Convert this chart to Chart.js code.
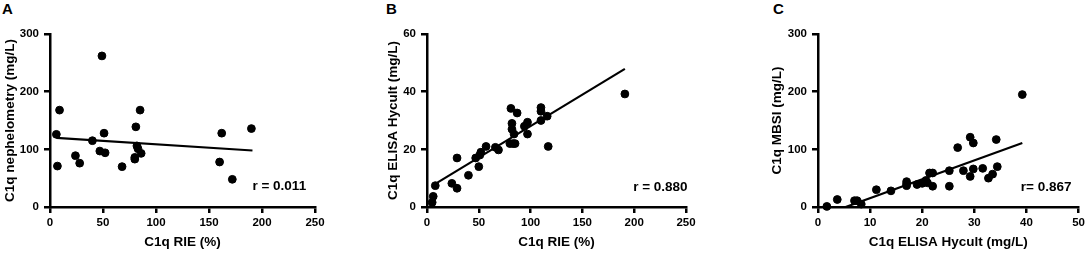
<!DOCTYPE html>
<html>
<head>
<meta charset="utf-8">
<script src="https://cdn.jsdelivr.net/npm/chart.js@4"></script>
<style>
  body { margin: 0; background: #fff; }
  #wrap { position: relative; width: 1088px; height: 253px; overflow: hidden; }
  canvas { position: absolute; top: 0; }
  .panel { position: absolute; top: 0; font: bold 15px "Liberation Sans", Arial, sans-serif; line-height: 17px; color: #000; }
</style>
</head>
<body>
<div id="wrap">
  <div class="panel" style="left:2px">A</div>
  <div class="panel" style="left:386px">B</div>
  <div class="panel" style="left:773px">C</div>
  <canvas id="chartA" width="340" height="253" style="left:0;width:340px;height:253px"></canvas>
  <canvas id="chartB" width="322" height="253" style="left:378px;width:322px;height:253px"></canvas>
  <canvas id="chartC" width="328" height="253" style="left:760px;width:328px;height:253px"></canvas>
</div>
<script>
// panel A: RIE vs nephelometry
const aRie  = [6, 7, 9, 24, 28, 40, 47, 49, 51, 52, 68, 80, 80, 81, 82, 83, 85, 86, 160, 162, 172, 190];
const aNeph = [126, 71, 168, 89, 76, 115, 97, 262, 128, 94, 70, 86, 83, 139, 106, 101, 168, 93, 78, 128, 48, 136];
const aFitX = [6, 191];
const aFitY = [120, 98];

// panel B: RIE vs ELISA Hycult
const bRie    = [5, 6, 8, 24, 29, 29, 40, 47, 50, 51, 52, 57, 66, 69, 80, 81, 82, 82, 83, 84, 85, 87, 94, 97, 97, 110, 110, 110, 116, 117, 191];
const bHycult = [1.6, 3.7, 7.4, 8.2, 6.5, 17, 11, 17, 14, 18, 19, 21, 20.7, 19.8, 22, 34.2, 29, 27, 22, 25.3, 22, 32.6, 28, 29.4, 25.3, 34.5, 33.2, 30, 31.5, 21, 39.2];
const bFitX = [8, 191];
const bFitY = [8, 47.9];

// panel C: ELISA Hycult vs MBSI
const cHycult = [1.7, 3.7, 7, 7.5, 8.3, 11.2, 14, 17, 17, 17, 19, 20, 20.7, 21, 21.4, 22, 22, 25.2, 25.2, 26.8, 27.9, 29.2, 29.2, 29.8, 29.8, 31.6, 32.7, 33.5, 34.2, 34.4, 39.2];
const cMbsi   = [1, 13, 11, 11, 5, 30, 28, 44, 40, 37, 39, 41, 46, 42, 59, 59, 36, 63, 36, 103, 63, 121, 53, 111, 66, 67, 50, 57, 117, 70, 195];
const cFitX = [5.3, 39.2];
const cFitY = [0, 111];

const rLabels = ['r = 0.011', 'r = 0.880', 'r= 0.867'];
const rPos = [[191, 36], [199, 6.9], [38.9, 35]];

const FONT = '"Liberation Sans", Arial, sans-serif';

const rText = {
  id: 'rText',
  afterDatasetsDraw(chart, args, opts) {
    const c = chart.ctx;
    const x = chart.scales.x.getPixelForValue(opts.at[0]);
    const y = chart.scales.y.getPixelForValue(opts.at[1]);
    c.save();
    c.font = 'bold 13.5px ' + FONT;
    c.fillStyle = '#000';
    c.textAlign = 'left';
    c.textBaseline = 'middle';
    c.fillText(opts.text, x, y);
    c.restore();
  }
};

function pts(xs, ys) {
  return xs.map((v, i) => ({ x: v, y: ys[i] }));
}

function makeChart(id, cfg) {
  const axisOpts = (max, step, title, isX) => ({
    type: 'linear',
    min: 0,
    max: max,
    afterFit: s => { if (isX) s.height = 46; else s.width = cfg.yWidth; },
    ticks: {
      stepSize: step,
      color: '#000',
      padding: isX ? 3 : 5,
      font: { family: FONT, size: 11.5, weight: 'bold' }
    },
    grid: { drawOnChartArea: false, drawTicks: true, tickLength: 6, color: '#000', lineWidth: 2.5 },
    border: { display: true, color: '#000', width: 2.5 },
    title: {
      display: true,
      text: title,
      color: '#000',
      padding: isX ? { top: 0, bottom: 3 } : { top: cfg.yTitlePad, bottom: 0 },
      font: { family: FONT, size: 13.5, weight: 'bold' }
    }
  });

  return new Chart(document.getElementById(id), {
    type: 'scatter',
    data: {
      datasets: [
        {
          data: pts(cfg.xs, cfg.ys),
          backgroundColor: '#000',
          borderColor: '#000',
          pointRadius: 3.9,
          clip: false
        },
        {
          type: 'line',
          data: pts(cfg.fitX, cfg.fitY),
          borderColor: '#000',
          borderWidth: 2.2,
          pointRadius: 0,
          fill: false
        }
      ]
    },
    options: {
      responsive: false,
      animation: false,
      layout: { padding: { top: 34, right: cfg.rightPad, bottom: 0, left: 0 } },
      plugins: {
        legend: { display: false },
        tooltip: { enabled: false },
        rText: { text: cfg.label, at: cfg.at }
      },
      scales: {
        x: axisOpts(cfg.xMax, cfg.xStep, cfg.xTitle, true),
        y: axisOpts(cfg.yMax, cfg.yStep, cfg.yTitle, false)
      }
    },
    plugins: [rText]
  });
}

makeChart('chartA', {
  xs: aRie, ys: aNeph, fitX: aFitX, fitY: aFitY,
  xMax: 250, xStep: 50, yMax: 300, yStep: 100,
  xTitle: 'C1q RIE (%)', yTitle: 'C1q nephelometry (mg/L)',
  yWidth: 50, yTitlePad: 2, rightPad: 25,
  label: rLabels[0], at: rPos[0]
});

makeChart('chartB', {
  xs: bRie, ys: bHycult, fitX: bFitX, fitY: bFitY,
  xMax: 250, xStep: 50, yMax: 60, yStep: 20,
  xTitle: 'C1q RIE (%)', yTitle: 'C1q ELISA Hycult (mg/L)',
  yWidth: 49, yTitlePad: 7, rightPad: 14,
  label: rLabels[1], at: rPos[1]
});

makeChart('chartC', {
  xs: cHycult, ys: cMbsi, fitX: cFitX, fitY: cFitY,
  xMax: 50, xStep: 10, yMax: 300, yStep: 100,
  xTitle: 'C1q ELISA Hycult (mg/L)', yTitle: 'C1q MBSI (mg/L)',
  yWidth: 58, yTitlePad: 9, rightPad: 8,
  label: rLabels[2], at: rPos[2]
});
</script>
</body>
</html>
